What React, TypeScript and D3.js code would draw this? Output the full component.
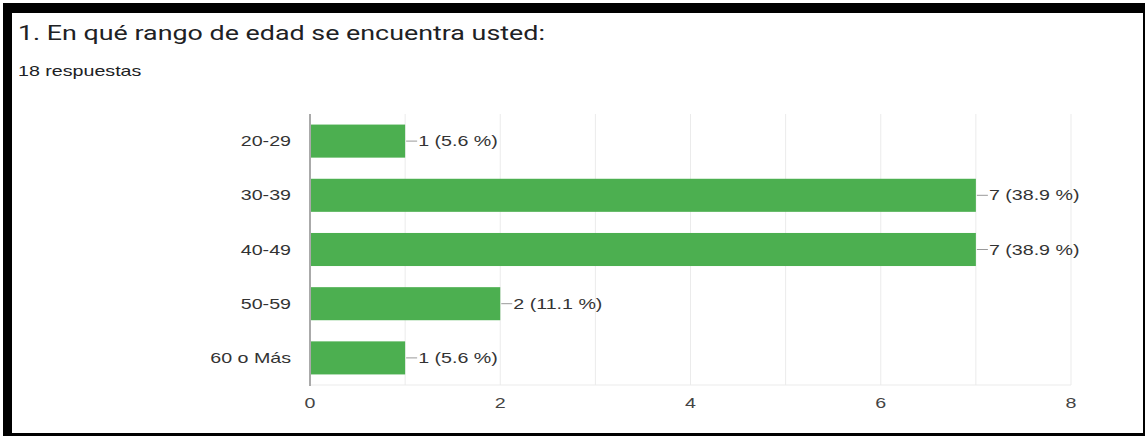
import * as d3 from "d3";

const categories = ["20-29", "30-39", "40-49", "50-59", "60 o Más"];
const counts = [1, 7, 7, 2, 1];
const percents = ["5.6", "38.9", "38.9", "11.1", "5.6"];
const xTicks = [0, 2, 4, 6, 8];
const gridValues = [0, 1, 2, 3, 4, 5, 6, 7, 8];

const W = 1146;
const H = 438;
// the reference picture is stretched horizontally, so text is too
const SX = 1.31;

export default function App() {
  const x = d3.scaleLinear().domain([0, 8]).range([310, 1071]);
  const y = d3.scaleBand<string>().domain(categories).range([114, 385]).paddingInner(0.39).paddingOuter(0.195);
  const labelFont = "'Liberation Sans', Arial, sans-serif";

  return (
    <>
      <style>{`body{margin:0}`}</style>
      <svg width={W} height={H} style={{ display: "block" }}>
        <rect x={0} y={0} width={W} height={H} fill="#fff" />
        {/* black frame */}
        <rect x={3} y={3} width={1142} height={10} fill="#000" />
        <rect x={3} y={3} width={9} height={433} fill="#000" />
        <rect x={1143} y={3} width={2} height={433} fill="#000" />
        <rect x={3} y={433} width={1142} height={3} fill="#000" />

        <text transform={`translate(18,40) scale(${SX},1)`} fontFamily="Roboto, sans-serif" fontSize={20.5} fill="#202124">
          1. En qué rango de edad se encuentra usted:
        </text>
        <text transform={`translate(18,76) scale(${SX},1)`} fontFamily={labelFont} fontSize={15} fill="#202124">
          18 respuestas
        </text>

        {/* grid */}
        {gridValues.map((v) => (
          <line key={v} x1={x(v)} x2={x(v)} y1={114} y2={385} stroke="#ebebeb" strokeWidth={1} />
        ))}
        <line x1={x(0)} x2={x(8)} y1={385} y2={385} stroke="#ebebeb" />

        {/* bars */}
        {categories.map((c, i) => {
          const y0 = y(c) ?? 0;
          const cy = y0 + y.bandwidth() / 2;
          const x1 = x(counts[i]);
          return (
            <g key={c}>
              <rect x={x(0)} y={y0} width={x1 - x(0)} height={y.bandwidth()} fill="#4caf50" />
              <line x1={x1 + 1} x2={x1 + 12} y1={cy} y2={cy} stroke="#999" strokeWidth={1} />
              <text transform={`translate(${x1 + 13},${cy + 5}) scale(${SX},1)`} fontFamily={labelFont} fontSize={15} fill="#333">
                {`${counts[i]} (${percents[i]} %)`}
              </text>
              <text transform={`translate(291,${cy + 5}) scale(${SX},1)`} textAnchor="end" fontFamily={labelFont} fontSize={15} fill="#333">
                {c}
              </text>
            </g>
          );
        })}

        {/* left axis */}
        <line x1={x(0)} x2={x(0)} y1={114} y2={386} stroke="#aaa" strokeWidth={2} />

        {xTicks.map((t) => (
          <text key={t} transform={`translate(${x(t)},408) scale(${SX},1)`} textAnchor="middle" fontFamily={labelFont} fontSize={15} fill="#444">
            {t}
          </text>
        ))}
      </svg>
    </>
  );
}
